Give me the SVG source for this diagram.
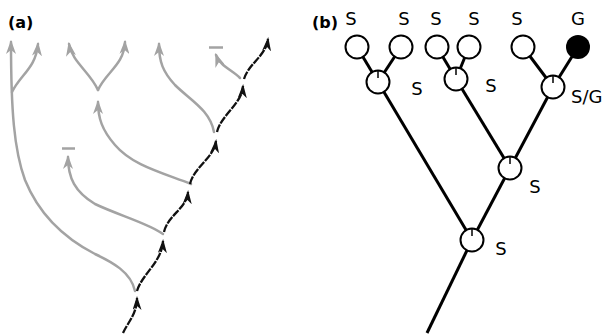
<svg xmlns="http://www.w3.org/2000/svg" width="611" height="336" viewBox="0 0 611 336">
<defs>
<marker id="ag" refX="12" refY="5" markerWidth="15" markerHeight="10" markerUnits="userSpaceOnUse" orient="auto">
<path d="M0,0 L14,5 L0,10 L4,5 z" fill="#a3a3a3"/>
</marker>
<marker id="ab" refX="12" refY="4.5" markerWidth="15" markerHeight="9" markerUnits="userSpaceOnUse" orient="auto">
<path d="M0,0 L14,4.5 L0,9 L4,4.5 z" fill="#111"/>
</marker>
</defs>
<style>
.g{fill:none;stroke:#a3a3a3;stroke-width:2.5;stroke-linecap:round}
.gh{marker-end:url(#ag)}
.b{fill:none;stroke:#111;stroke-width:2.3;stroke-dasharray:8 1.2;marker-end:url(#ab)}
.bar{stroke:#a3a3a3;stroke-width:2.5}
.e{stroke:#000;stroke-width:3;fill:none}
.n{fill:#fff;stroke:#000;stroke-width:2}
.t{stroke:#000;stroke-width:1.5}
.lab{font-family:"DejaVu Sans","Liberation Sans",sans-serif;font-size:18px;fill:#000;text-anchor:middle}
.labl{font-family:"DejaVu Sans","Liberation Sans",sans-serif;font-size:18px;fill:#000;text-anchor:start}
.pl{font-family:"DejaVu Sans","Liberation Sans",sans-serif;font-size:16px;font-weight:bold;fill:#000}
</style>
<g id="panel-a">
<text class="pl" x="8" y="28">(a)</text>
<g id="connectors-a">
<path class="g gh" d="M135,291 C131,272 112,262 95,254 C60,236 38,212 25,180 C14,150 11,110 11,42"/>
<path class="g gh" d="M12,92 C20,75 36,68 38,44"/>
<path class="g gh" d="M98,90 C90,72 72,62 69,44"/>
<path class="g gh" d="M98,90 C106,72 124,65 125,42"/>
<path class="g gh" d="M191,184 C160,172 132,165 115,145 C102,130 98,118 98,102"/>
<path class="g gh" d="M214,132 C210,110 190,100 175,85 C163,72 159,62 159,44"/>
<path class="g gh" d="M240,78 C232,70 220,66 216,55"/>
<line class="bar" x1="209" y1="47.5" x2="223" y2="47.5"/>
<path class="g gh" d="M163,234 C150,224 118,215 95,204 C75,192 68,178 68,157"/>
<line class="bar" x1="62" y1="148.5" x2="75" y2="148.5"/>
<path class="b" d="M123,333 C128,322 137,314 137,298"/>
<path class="b" d="M137,291 C142,274 162,262 163,241"/>
<path class="b" d="M164,232 C168,215 187,208 188,192"/>
<path class="b" d="M190,184 C194,167 214,158 216,141"/>
<path class="b" d="M217,132 C221,115 242,104 243,86"/>
<path class="b" d="M244,79 C249,63 266,56 268,39"/>
</g>
</g>
<g id="panel-b">
<text class="pl" x="312" y="28">(b)</text>
<g id="connectors-b">
<line class="e" x1="357" y1="47" x2="378" y2="82"/>
<line class="e" x1="401" y1="47" x2="378" y2="82"/>
<line class="e" x1="437" y1="47" x2="456" y2="79"/>
<line class="e" x1="469" y1="47" x2="456" y2="79"/>
<line class="e" x1="523" y1="47" x2="553" y2="87"/>
<line class="e" x1="578" y1="47" x2="553" y2="87"/>
<line class="e" x1="378" y1="82" x2="472" y2="240"/>
<line class="e" x1="456" y1="79" x2="510" y2="168"/>
<line class="e" x1="553" y1="87" x2="510" y2="168"/>
<line class="e" x1="510" y1="168" x2="472" y2="240"/>
<line class="e" x1="472" y1="240" x2="427" y2="333"/>
</g>
<g id="leaf1"><circle class="n" cx="357" cy="47" r="11.5"/><text class="lab" x="351" y="25">S</text></g>
<g id="leaf2"><circle class="n" cx="401" cy="47" r="11.5"/><text class="lab" x="404" y="25">S</text></g>
<g id="leaf3"><circle class="n" cx="437" cy="47" r="11.5"/><text class="lab" x="436" y="25">S</text></g>
<g id="leaf4"><circle class="n" cx="469" cy="47" r="11.5"/><text class="lab" x="474" y="25">S</text></g>
<g id="leaf5"><circle class="n" cx="523" cy="47" r="11.5"/><text class="lab" x="517" y="25">S</text></g>
<g id="leaf6"><circle cx="578" cy="47" r="12" fill="#000"/><text class="lab" x="578" y="25">G</text></g>
<g id="nodeA"><circle class="n" cx="378" cy="82" r="11.5"/><line class="t" x1="378" y1="71" x2="378" y2="78"/><text class="lab" x="417" y="95">S</text></g>
<g id="nodeB"><circle class="n" cx="456" cy="79" r="11.5"/><line class="t" x1="456" y1="68" x2="456" y2="75"/><text class="lab" x="491" y="92">S</text></g>
<g id="nodeC"><circle class="n" cx="553" cy="87" r="11.5"/><line class="t" x1="553" y1="76" x2="553" y2="83"/><text class="labl" x="571" y="103">S/G</text></g>
<g id="nodeD"><circle class="n" cx="510" cy="168" r="11.5"/><line class="t" x1="510" y1="157" x2="510" y2="164"/><text class="lab" x="535" y="193">S</text></g>
<g id="nodeE"><circle class="n" cx="472" cy="240" r="11.5"/><line class="t" x1="472" y1="229" x2="472" y2="236"/><text class="lab" x="501" y="255">S</text></g>
</g>
</svg>
